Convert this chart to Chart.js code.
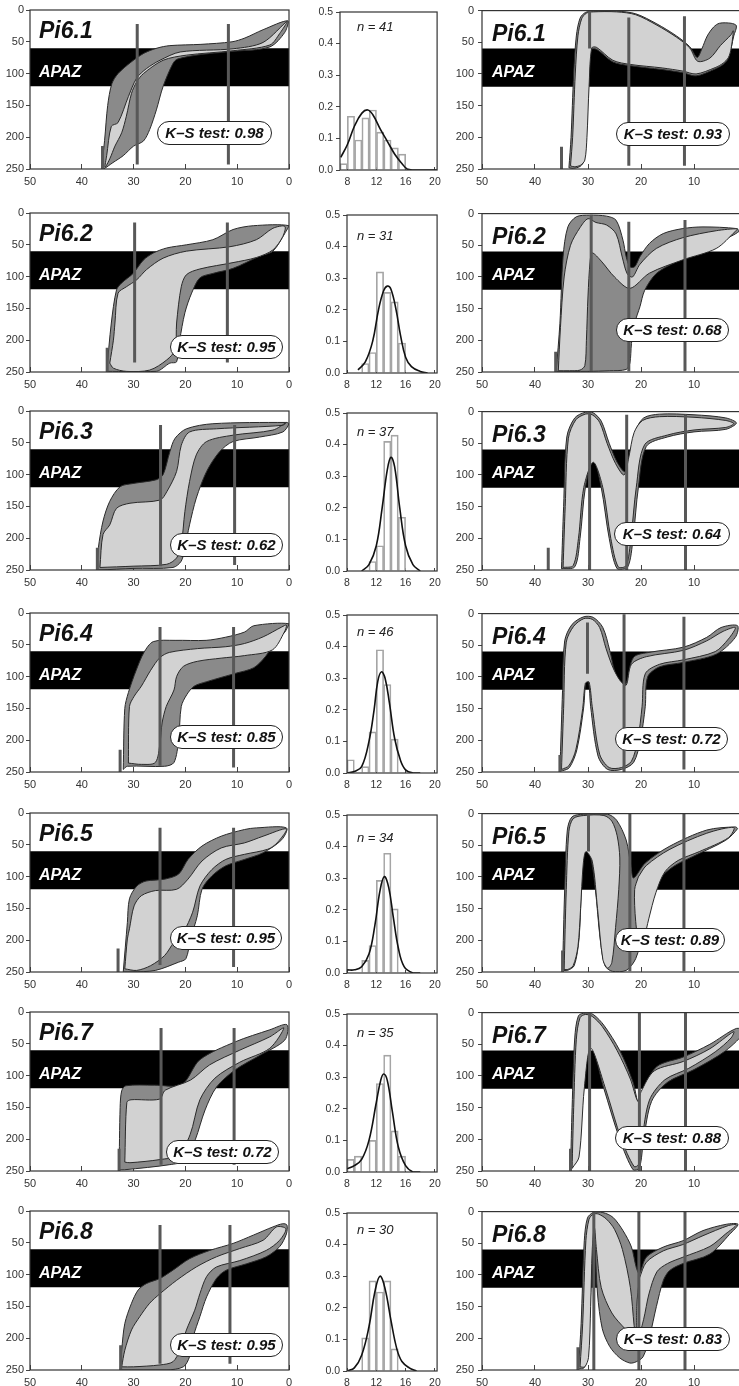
<!DOCTYPE html>
<html><head><meta charset="utf-8">
<script src="https://cdn.jsdelivr.net/npm/chart.js@4.4.1/dist/chart.umd.min.js"></script>
<style>
html,body{margin:0;padding:0;background:#fff;}
body{width:739px;height:1386px;overflow:hidden;position:relative;font-family:"Liberation Sans",Arial,sans-serif;}
canvas{position:absolute;}
.lab{position:absolute;white-space:nowrap;line-height:1;}
.pi{font:italic bold 23px "Liberation Sans",Arial,sans-serif;color:#111;}
.apaz{font:italic bold 16px "Liberation Sans",Arial,sans-serif;color:#fff;}
.ks{font:italic bold 15px "Liberation Sans",Arial,sans-serif;color:#111;border:1.5px solid #222;border-radius:13px;background:#fff;box-sizing:border-box;text-align:center;height:24px;line-height:21px;}
.n{font:italic 13px "Liberation Sans",Arial,sans-serif;color:#222;}
</style>
</head><body>
<script>
// ---------------- DATA ----------------
const sampleNames = ['Pi6.1','Pi6.2','Pi6.3','Pi6.4','Pi6.5','Pi6.7','Pi6.8'];
const ksLeft  = ['0.98','0.95','0.62','0.85','0.95','0.72','0.95'];
const ksRight = ['0.93','0.68','0.64','0.72','0.89','0.88','0.83'];
const nValues = [41,31,37,46,34,35,30];
const timeTicks = [0,10,20,30,40,50];
const tempTicks = [0,50,100,150,200,250];
const histXTicks = [8,12,16,20];
const histYTicks = [0,0.1,0.2,0.3,0.4,0.5];
const apazTop = 60, apazBottom = 120;

// envelopes: [time (Ma), temperature (°C)]
const outerL1 = [[36.2,250],[35.6,205],[35.0,150],[34.2,116],[33.0,100],[30.5,82],[28.0,68],[25.5,60],[23.0,56],[17.0,54],[11.0,50],[8.5,44],[5.0,31],[0.2,17],[0.8,35],[3.7,58],[10.8,65],[17.0,70],[21.5,77],[22.4,84],[24.3,120],[25.6,157],[26.9,188],[28.1,206],[30.0,214],[32.0,229],[34.0,240],[35.8,250]];
const innerL1 = [[35.2,229],[34.3,183],[33.0,177],[31.0,136],[29.4,107],[27.5,92],[24.9,79],[21.0,66],[10.8,61],[5.0,51],[0.4,18],[1.8,37],[3.7,55],[10.8,64],[19.8,71],[24.3,79],[28.1,100],[29.4,113],[30.4,131],[31.4,167],[32.3,193],[33.6,214],[34.6,234],[35.5,247]];
const outerR1 = [[33.6,248],[33.2,200],[32.7,100],[32.2,40],[31.5,12],[30.5,3],[29.0,0.8],[24.6,0.8],[21.0,5],[17.0,21],[13.3,40],[10.8,57],[9.4,74],[8.5,60],[7.5,40],[6.3,26],[5.2,20],[3.0,20],[2.0,24],[2.5,40],[3.5,75],[4.5,85],[6.0,92],[9.6,103],[12.1,98],[16.0,93],[22.0,87],[25.3,81],[28.4,61],[29.5,62],[30.0,120],[30.4,200],[30.8,238],[31.5,246],[32.8,249]];
const innerR1 = [[33.3,245],[32.9,200],[32.4,100],[31.9,40],[31.2,13],[30.3,4],[29.0,2],[24.6,2],[21.0,6.5],[17.0,23],[13.3,42],[10.8,59],[9.3,80],[7.0,75],[5.0,55],[3.0,38],[2.6,32],[3.0,60],[3.5,74],[4.5,83],[6.0,90],[9.6,100],[12.1,95.5],[16.0,90.5],[22.0,85],[25.3,78.5],[28.4,58],[29.3,59],[29.8,120],[30.2,200],[30.6,236],[31.4,244],[32.6,246.5]];

const outerL2 = [[35.2,249],[34.3,173],[33.3,121],[32.3,110],[30.1,95],[28.1,74],[26.2,63],[23.6,55],[19.8,50],[14.7,42],[10.8,26],[6.9,20],[0.0,20],[0.8,32],[3.1,60],[5.7,68],[10.8,87],[14.7,95],[17.2,102],[18.8,126],[20.1,157],[21.1,200],[21.7,234],[23.0,236],[25.6,249]];
const innerL2 = [[34.6,236],[33.9,200],[33.6,173],[33.0,126],[31.4,116],[29.4,105],[27.5,89],[24.3,71],[19.8,60],[11.4,53],[6.3,42],[3.1,24],[0.8,21],[1.2,37],[3.1,58],[6.3,70],[10.8,78],[17.2,88],[19.8,97],[20.8,116],[21.7,173],[22.0,215],[23.6,231],[26.9,247],[31.4,249],[33.9,244]];
const outerR2 = [[36.0,249],[35.3,173],[34.7,68],[33.8,21],[32.2,5],[29.7,2.5],[26.5,4],[24.7,10.5],[23.4,42],[22.8,68],[22.1,84],[21.2,84],[20.2,68],[18.4,47],[15.8,31.5],[12.1,23.6],[8.3,21],[2.0,23.6],[1.5,28],[4.5,42],[9.6,63],[13.3,76],[17.1,94.5],[19.3,121],[20.2,147],[21.2,173],[21.8,205],[22.1,236],[22.8,246],[26.0,248],[30.0,249]];
const innerR2 = [[35.6,248],[35.2,180],[34.5,100],[33.3,50],[31.5,22],[30.0,8],[28.5,14],[26.5,18],[24.7,32],[23.5,70],[22.6,95],[21.6,100],[20.2,80],[17.1,55],[12.1,38],[5.8,27],[1.8,24],[2.2,28],[5.8,55],[12.1,73],[18.4,94],[22.1,118],[25.0,100],[27.5,75],[29.2,62],[29.6,75],[30.0,130],[30.3,200],[30.6,240],[31.5,247],[33.5,248]];

const outerL3 = [[37.1,250],[36.8,215],[35.9,173],[34.6,142],[32.6,119],[30.1,114],[25.6,108],[24.3,100],[23.0,64],[22.0,43],[19.8,28],[14.7,20],[0.5,18],[0.0,20],[1.2,33],[5.7,41],[10.8,48],[13.4,64],[15.9,95],[17.9,137],[19.2,179],[20.1,215],[20.8,236],[22.4,246],[30.1,247.5],[36.5,250]];
const innerL3 = [[36.5,246],[35.9,194],[34.6,179],[33.3,153],[30.7,145],[24.9,140],[23.6,127],[21.7,95],[20.8,54],[19.2,33],[14.0,28],[1.2,22.5],[0.5,18],[3.1,30],[10.8,38],[15.9,48],[17.9,69],[19.2,111],[20.1,158],[20.8,210],[21.7,231],[23.6,241],[30.1,244]];
const outerR3 = [[35.0,248],[34.6,150],[34.0,40],[32.5,10],[30.5,1],[29.0,2],[27.5,15],[26.0,50],[24.5,80],[23.0,95],[22.0,70],[21.0,30],[19.5,10],[16.5,4],[10.0,5],[4.0,10],[2.0,18],[4.0,28],[10.0,32],[15.0,40],[19.0,55],[20.5,120],[21.5,200],[22.5,245],[24.5,248],[26.0,200],[27.5,120],[29.0,75],[30.5,120],[31.5,200],[32.5,245]];
const innerR3 = [[34.7,246],[34.3,150],[33.7,42],[32.3,13],[30.5,4],[29.2,5],[27.8,17],[26.4,50],[24.8,82],[23.2,100],[22.3,72],[21.3,33],[19.7,14],[16.5,8],[10.0,9],[4.0,14],[2.5,19],[4.0,25],[10.0,29],[15.0,37],[19.3,52],[20.9,120],[21.9,200],[22.8,243],[24.3,245],[25.7,200],[27.2,120],[29.0,80],[30.8,120],[31.8,200],[32.8,243]];

const outerL4 = [[32.0,246],[31.7,150],[31.0,125],[29.5,90],[28.0,62],[26.2,45],[22.0,43],[16.0,43],[12.2,38],[8.6,30],[6.8,20],[0.0,17],[0.8,30],[2.6,45],[4.5,68],[6.8,86],[10.4,95],[15.9,108],[18.3,115],[19.7,128],[20.8,147],[21.3,199],[22.2,235],[24.0,241],[31.2,241]];
const innerL4 = [[31.0,236],[30.8,147],[29.9,131],[28.5,115],[26.7,90],[24.9,70],[23.1,62],[17.7,56],[12.2,53],[8.6,48],[5.0,37.5],[1.4,22],[0.5,19],[0.9,30],[3.2,58],[8.6,67],[13.1,71],[17.7,76],[20.4,84],[21.7,100],[22.2,121],[23.7,147],[24.5,173],[24.9,204],[25.8,235],[28.5,238]];
const outerR4 = [[35.3,248],[34.8,121],[34.4,43],[33.0,17],[30.8,5],[29.0,6],[27.2,22],[25.9,58],[25.0,90],[23.7,116],[22.8,110],[21.4,69],[18.3,61],[12.0,53],[7.6,37.5],[4.9,22],[1.8,19],[2.2,37.5],[5.8,64],[12.0,77],[16.5,84],[18.75,100],[19.2,147],[20.1,199],[21.4,235],[23.7,246],[26.3,246],[28.1,225],[29.5,147],[29.9,105],[30.4,105],[30.8,147],[32.1,215],[33.5,243],[34.8,248]];
const innerR4 = [[35.0,246],[34.6,150],[34.1,45],[32.7,20],[30.8,8],[29.2,9],[27.8,22],[26.6,55],[25.3,85],[24.0,105],[22.8,113],[21.8,80],[19.0,68],[12.0,58],[7.6,43],[4.5,28],[2.2,22],[3.5,40],[6.0,60],[12.0,73],[16.5,80],[19.2,95],[19.8,147],[20.6,199],[21.8,233],[23.7,243],[26.0,243],[27.8,222],[29.2,147],[29.8,108],[30.5,110],[31.0,150],[32.3,215],[33.6,240]];

const outerL5 = [[32.0,250],[31.2,172],[30.8,135],[29.4,115],[27.6,107],[24.0,104],[21.3,96],[19.5,73],[16.8,52],[13.1,36.5],[8.6,26],[6.3,23.4],[0.5,23.4],[1.4,42],[5.0,62.5],[8.6,73],[12.2,83],[14.9,99],[16.8,120],[17.7,161.5],[19.0,198],[19.9,229],[21.3,234.5],[25.8,247.5],[30.3,250]];
const innerL5 = [[31.7,245],[31.2,198],[30.8,182],[29.9,146],[28.5,130],[25.8,122],[21.7,120],[19.5,104],[16.8,75.5],[13.1,55],[8.6,47],[5.0,36.5],[0.5,25],[2.3,47],[4.1,57],[8.6,65],[12.2,73],[14.9,89],[17.2,115],[18.6,156],[20.4,187.5],[22.2,203],[24.0,224],[26.7,240],[29.4,247.5]];
const outerR5 = [[34.8,247.5],[34.4,120],[33.9,26],[33.0,5],[30.8,1],[26.3,1],[24.6,10.4],[22.8,41.7],[21.9,83],[21.4,101.6],[19.2,78],[14.7,52],[7.6,26],[2.2,21],[1.8,24],[4.0,42],[10.3,68],[13.8,83],[16.5,104],[18.3,146],[19.6,187.5],[21.0,229],[22.8,247.5],[25.4,249],[26.8,240],[27.7,198],[28.6,120],[29.5,68],[30.4,57],[30.8,60],[31.25,120],[31.7,198],[32.6,240],[33.9,247.5]];
const innerR5 = [[34.5,246],[34.1,120],[33.6,28],[32.8,8],[30.8,3],[27.0,3],[25.5,12],[24.5,35],[24.0,70],[24.2,120],[24.8,180],[25.5,235],[26.3,244],[27.2,230],[28.2,150],[29.2,75],[30.4,60],[30.9,80],[31.4,150],[31.9,210],[32.8,240],[33.8,246]];
const innerR5b = [[20.5,100],[19.0,82],[14.7,57],[7.6,31],[2.5,22],[3.5,38],[9.0,60],[13.0,74],[15.5,92],[17.2,125],[18.5,165],[19.5,200],[20.2,215],[21.0,170],[21.2,120]];

const outerL6 = [[32.8,248],[32.6,150],[32.3,124],[31.5,116],[26.0,115],[20.7,114],[17.2,75],[10.4,47],[3.7,28],[0.4,20],[0.8,44],[5.6,68],[10.4,91],[14.0,118],[16.2,154],[18.1,201],[20.0,233],[23.0,240],[31.7,248]];
const innerL6 = [[31.7,236],[31.3,142],[30.5,138],[25.0,137],[23.9,123],[19.0,107],[15.3,83],[9.5,60],[3.7,39],[1.0,25],[3.7,57],[9.5,79],[14.3,104],[17.2,138],[19.1,193],[21.4,225],[24.9,232],[30.7,237]];
const outerR6 = [[33.3,248],[33.0,150],[32.5,40],[31.8,5],[30.5,0.5],[29.0,3],[27.0,20],[24.0,60],[21.5,110],[20.3,150],[19.5,120],[17.0,85],[12.0,70],[7.0,50],[2.0,25],[0.5,30],[4.0,60],[10.0,90],[15.0,110],[18.0,140],[19.5,200],[20.3,245],[21.5,248],[24.0,200],[27.0,120],[29.5,50],[31.0,120],[32.0,230]];
const innerR6 = [[33.0,246],[32.7,150],[32.2,42],[31.5,8],[30.5,3],[29.2,6],[27.3,22],[24.5,60],[22.0,105],[20.6,140],[20.0,125],[17.5,92],[12.0,77],[7.0,57],[2.5,30],[3.0,40],[6.0,62],[11.0,88],[15.5,106],[18.4,138],[19.8,200],[20.5,240],[21.3,243],[23.7,200],[26.7,120],[29.5,56],[30.7,120],[31.7,228]];

const outerL7 = [[32.6,250],[32.3,219],[31.7,177],[30.4,145],[29.1,124],[27.5,114],[24.9,106],[22.4,93],[19.2,75],[15.3,62],[10.8,51],[6.9,38],[3.1,25],[1.2,20],[0.4,22],[0.5,36],[1.8,56],[4.4,72],[8.2,83],[12.1,93],[14.0,106],[15.9,135],[17.2,166],[18.5,198],[19.2,229],[20.4,245],[23.6,250]];
const innerL7 = [[32.3,245],[31.7,219],[30.4,187],[28.8,166],[26.9,145],[24.9,130],[21.7,109],[17.9,88],[14.0,72],[9.5,59],[5.0,46],[2.4,25],[0.6,28],[1.8,46],[4.4,62],[9.5,78],[14.0,88],[15.9,103],[17.2,130],[18.2,156],[19.8,187],[21.1,219],[22.4,237],[24.9,242],[30.0,245]];
const outerR7 = [[31.8,248],[31.3,177],[30.7,46],[30.1,10],[29.0,1.5],[27.2,1.5],[25.3,9],[23.4,30],[21.8,56],[20.9,88],[20.3,98],[19.0,72],[15.8,56],[12.1,46],[8.3,30],[3.9,20],[1.7,20],[3.3,36],[7.0,67],[12.1,82],[14.6,93],[15.8,109],[17.1,150],[18.4,198],[19.6,229],[20.9,237],[22.1,239],[24.0,231],[25.9,213],[27.3,185],[28.2,130],[28.6,60],[28.8,20],[29.2,60],[29.6,150],[30.1,230],[30.8,247]];
const innerR7 = [[31.5,245],[31.0,177],[30.4,46],[29.8,12],[29.0,4],[28.0,4],[26.5,12],[25.0,28],[23.5,60],[22.0,120],[21.3,180],[21.0,200],[23.0,185],[25.5,160],[27.5,120],[28.4,60],[28.8,25],[29.2,60],[29.5,150],[29.9,230],[30.6,245]];
const innerR7b = [[20.3,105],[19.0,80],[15.8,62],[12.1,52],[8.3,38],[3.5,22],[2.0,21],[4.0,35],[7.0,55],[12.1,72],[15.0,82],[17.0,95],[18.5,130],[19.5,170],[20.6,200],[20.8,150]];

// vertical reference lines: [time, temp from, temp to]
const linesL1 = [[29.3,22,243],[11.7,22,243],[36.0,214,250]];
const linesL2 = [[29.8,15,235],[11.9,15,235],[35.1,212,250]];
const linesL3 = [[24.8,22,244],[10.5,22,242],[37.0,215,250]];
const linesL4 = [[24.9,22,240],[10.7,22,243],[32.6,215,250]];
const linesL5 = [[24.9,23,239],[10.7,23,242],[33.0,213,250]];
const linesL6 = [[24.7,25,240],[10.6,25,240],[32.8,215,250]];
const linesL7 = [[24.9,22,240],[11.4,22,240],[32.5,211,250]];
const linesR1 = [[29.7,0,60],[22.3,11,245],[11.8,9,245],[35.0,215,250]];
const linesR2 = [[29.4,2,249],[22.3,13,249],[11.7,10,249],[36.1,218,250]];
const linesR3 = [[29.7,0,250],[22.7,5,250],[11.6,5,250],[37.5,215,250]];
const linesR4 = [[30.1,14,95],[23.2,1,250],[11.9,5,246],[35.3,223,250]];
const linesR5 = [[29.9,0,60],[22.1,0,249],[11.9,0,249],[34.8,216,250]];
const linesR6 = [[29.7,0,250],[20.3,0,250],[11.6,0,250],[33.3,215,250]];
const linesR7 = [[28.9,0,250],[20.4,0,250],[11.7,0,250],[31.9,214,250]];

// histograms: bin centres, frequencies, fitted curve
const bins1 = [7.5,8.5,9.5,10.5,11.5,12.5,13.5,14.5,15.5];
const freq1 = [0.02,0.17,0.095,0.165,0.19,0.12,0.095,0.07,0.05];
const curve1 = [[7.1,0.04],[8,0.08],[9,0.14],[10,0.18],[10.8,0.19],[11.5,0.175],[12.5,0.13],[13.5,0.09],[14.5,0.05],[15.5,0.02],[16.2,0.003],[17,0],[20.3,0]];
const bins2 = [10.5,11.5,12.5,13.5,14.5,15.5];
const freq2 = [0.03,0.065,0.32,0.255,0.225,0.095];
const curve2 = [[9.5,0.01],[10.5,0.035],[11.5,0.1],[12.3,0.2],[13,0.26],[13.5,0.275],[14,0.265],[14.7,0.2],[15.3,0.12],[16,0.05],[16.8,0.02],[18,0.005],[19,0]];
const bins3 = [11.5,12.5,13.5,14.5,15.5];
const freq3 = [0.03,0.08,0.41,0.43,0.17];
const curve3 = [[10,0],[11,0.02],[12,0.08],[12.8,0.2],[13.5,0.32],[14,0.36],[14.5,0.33],[15.2,0.2],[16,0.08],[17,0.02],[18,0]];
const bins4 = [8.5,10.5,11.5,12.5,13.5,14.5];
const freq4 = [0.042,0.02,0.13,0.39,0.28,0.107];
const curve4 = [[8,0],[9,0.005],[10,0.02],[11,0.1],[11.7,0.2],[12.2,0.29],[12.7,0.32],[13.2,0.3],[13.8,0.22],[14.5,0.11],[15.3,0.04],[16,0.01],[17,0],[18,0]];
const bins5 = [10.5,11.5,12.5,13.5,14.5];
const freq5 = [0.04,0.087,0.293,0.379,0.203];
const curve5 = [[8,0.01],[9,0.01],[10,0.02],[11,0.06],[11.8,0.15],[12.5,0.26],[13.1,0.305],[13.7,0.27],[14.3,0.18],[15,0.08],[15.8,0.02],[17,0],[18,0]];
const bins6 = [8.5,9.5,11.5,12.5,13.5,14.5,15.5];
const freq6 = [0.04,0.05,0.1,0.28,0.37,0.13,0.05];
const curve6 = [[8,0.01],[9,0.02],[10,0.04],[11,0.1],[12,0.22],[12.6,0.29],[13,0.31],[13.5,0.29],[14.2,0.19],[15,0.08],[16,0.02],[17,0],[18,0]];
const bins7 = [10.5,11.5,12.5,13.5,14.5];
const freq7 = [0.105,0.285,0.25,0.285,0.07];
const curve7 = [[8,0],[9,0.01],[10,0.05],[11,0.14],[11.8,0.25],[12.5,0.3],[13.2,0.26],[14,0.16],[14.8,0.07],[15.5,0.03],[16.5,0.01],[17.5,0]];

// ---------------- LAYOUT ----------------
const rowTops = [10,213,411,613,813,1012,1211];
const leftKS  = [[157,111,115],[170,122,113],[170,122,113],[170,112,113],[170,113,112],[166,128,113],[170,122,113]];
const rightKS = [[616,112,114],[616,105,113],[614,111,116],[615,114,113],[615,115,110],[615,114,114],[616,116,114]];
const nOffsets = [20,26,24,22,28,24,22];
const histMin = [7,8,8,8,8,8,8];

const leftOuter = [[outerL1],[outerL2],[outerL3],[outerL4],[outerL5],[outerL6],[outerL7]];
const leftInner = [[innerL1],[innerL2],[innerL3],[innerL4],[innerL5],[innerL6],[innerL7]];
const rightOuter = [[outerR1],[outerR2],[outerR3],[outerR4],[outerR5],[outerR6],[outerR7]];
const rightInner = [[innerR1],[innerR2],[innerR3],[innerR4],[innerR5,innerR5b],[innerR6],[innerR7,innerR7b]];
const leftLines = [linesL1,linesL2,linesL3,linesL4,linesL5,linesL6,linesL7];
const rightLines = [linesR1,linesR2,linesR3,linesR4,linesR5,linesR6,linesR7];
const histBins = [bins1,bins2,bins3,bins4,bins5,bins6,bins7];
const histFreq = [freq1,freq2,freq3,freq4,freq5,freq6,freq7];
const histCurve = [curve1,curve2,curve3,curve4,curve5,curve6,curve7];

const FONT = '"Liberation Sans", Arial, sans-serif';
const DARK = '#8a8a8a', LIGHT = '#d2d2d2', EDGE = '#2a2a2a', VLINE = '#585858';

const framePlugin = {
  id:'frame',
  afterDatasetsDraw(c){
    const {ctx, chartArea:a} = c;
    ctx.save(); ctx.strokeStyle = '#333'; ctx.lineWidth = 1.2;
    ctx.strokeRect(a.left, a.top, a.right - a.left, a.bottom - a.top);
    ctx.restore();
  }
};

function makeCanvas(left, top, w, h){
  const c = document.createElement('canvas');
  c.width = w; c.height = h;
  c.style.left = left + 'px'; c.style.top = top + 'px';
  c.style.width = w + 'px'; c.style.height = h + 'px';
  document.body.appendChild(c);
  return c;
}
function ticksFrom(arr){ return s => { s.ticks = arr.map(v => ({value:v})); }; }

function polyDs(poly, color, order){
  const pts = poly.map(p => ({x:p[0], y:p[1]}));
  pts.push({x:poly[0][0], y:poly[0][1]});
  return {data:pts, fill:'shape', backgroundColor:color, borderColor:EDGE, borderWidth:1,
          pointRadius:0, tension:0.3, order};
}
function lineDs(l){
  return {data:[{x:l[0], y:l[1]},{x:l[0], y:l[2]}], fill:false, borderColor:VLINE, borderWidth:3,
          pointRadius:0, tension:0, order:1};
}

function envChart(left, top, width, yW, yPad, padR, outers, inners, lines){
  const cv = makeCanvas(left, top, width, 195);
  const ds = [];
  ds.push({data:[{x:50,y:apazTop},{x:0,y:apazTop},{x:0,y:apazBottom},{x:50,y:apazBottom},{x:50,y:apazTop}],
           fill:'shape', backgroundColor:'#000', borderColor:'#000', borderWidth:0, pointRadius:0, order:10});
  outers.forEach(p => ds.push(polyDs(p, DARK, 8)));
  inners.forEach(p => ds.push(polyDs(p, LIGHT, 6)));
  lines.forEach(l => ds.push(lineDs(l)));
  new Chart(cv, {
    type:'line',
    data:{datasets:ds},
    plugins:[framePlugin],
    options:{
      responsive:false, animation:false, events:[],
      layout:{padding:{top:10, right:padR, bottom:0, left:0}},
      plugins:{legend:{display:false}, tooltip:{enabled:false}},
      scales:{
        x:{type:'linear', reverse:true, min:0, max:50,
           afterBuildTicks:ticksFrom(timeTicks), afterFit:s => { s.height = 26; },
           grid:{drawOnChartArea:false, drawTicks:true, tickLength:-5, color:'#444', lineWidth:1},
           border:{display:false},
           ticks:{padding:11, color:'#333', font:{family:FONT, size:11}, maxRotation:0, autoSkip:false, callback:v => String(v)}},
        y:{type:'linear', reverse:true, min:0, max:250,
           afterBuildTicks:ticksFrom(tempTicks), afterFit:s => { s.width = yW; },
           grid:{drawOnChartArea:false, drawTicks:true, tickLength:4, color:'#444', lineWidth:1},
           border:{display:false},
           ticks:{padding:yPad, color:'#333', font:{family:FONT, size:11}, autoSkip:false, callback:v => String(v)}}
      }
    }
  });
}

function histChart(r, top){
  const xmin = histMin[r];
  const yW = 340 - 290 + (xmin === 7 ? 0 : 7);
  const cv = makeCanvas(290, top, 160, 195);
  new Chart(cv, {
    type:'bar',
    data:{datasets:[
      {type:'line', data:histCurve[r].map(p => ({x:p[0], y:p[1]})), borderColor:'#111', borderWidth:1.6,
       pointRadius:0, tension:0.4, fill:false, order:1},
      {type:'bar', data:histBins[r].map((b,i) => ({x:b, y:histFreq[r][i]})), backgroundColor:'rgba(255,255,255,0)',
       borderColor:'#a5a5a5', borderWidth:1, barPercentage:1, categoryPercentage:1, order:2}
    ]},
    plugins:[framePlugin],
    options:{
      responsive:false, animation:false, events:[],
      layout:{padding:{top:12, right:11, bottom:0, left:0}},
      plugins:{legend:{display:false}, tooltip:{enabled:false}},
      scales:{
        x:{type:'linear', min:xmin, max:20.3, offset:false,
           afterBuildTicks:ticksFrom(histXTicks), afterFit:s => { s.height = 25; },
           grid:{drawOnChartArea:false, drawTicks:true, tickLength:-3, color:'#444', offset:false},
           border:{display:false},
           ticks:{padding:9, color:'#333', font:{family:FONT, size:10.5}, maxRotation:0, autoSkip:false, callback:v => String(v)}},
        y:{type:'linear', min:0, max:0.5,
           afterBuildTicks:ticksFrom(histYTicks), afterFit:s => { s.width = yW; },
           grid:{drawOnChartArea:false, drawTicks:true, tickLength:4, color:'#444'},
           border:{display:false},
           ticks:{padding:3, color:'#333', font:{family:FONT, size:10.5}, autoSkip:false, callback:v => v.toFixed(1)}}
      }
    }
  });
}

function addLabel(text, cls, left, top, width){
  const d = document.createElement('div');
  d.className = 'lab ' + cls;
  d.textContent = text;
  d.style.left = left + 'px'; d.style.top = top + 'px';
  if (width) d.style.width = width + 'px';
  document.body.appendChild(d);
  return d;
}

for (let r = 0; r < 7; r++){
  const t = rowTops[r];
  envChart(0, t - 10, 300, 30, 2, 11, leftOuter[r], leftInner[r], leftLines[r]);
  histChart(r, t - 10);
  envChart(450, t - 10, 310, 32, 4, 13, rightOuter[r], rightInner[r], rightLines[r]);

  addLabel(sampleNames[r], 'pi', 39, t + 6.5);
  addLabel(sampleNames[r], 'pi', 492, t + 9.5);
  addLabel('APAZ', 'apaz', 39, t + 52.5);
  addLabel('APAZ', 'apaz', 492, t + 52.5);
  addLabel('K\u2013S test: ' + ksLeft[r], 'ks', leftKS[r][0], t + leftKS[r][1], leftKS[r][2]);
  addLabel('K\u2013S test: ' + ksRight[r], 'ks', rightKS[r][0], t + rightKS[r][1], rightKS[r][2]);
  addLabel('n = ' + nValues[r], 'n', 357, t + nOffsets[r] - 11);
}
</script>
</body></html>
